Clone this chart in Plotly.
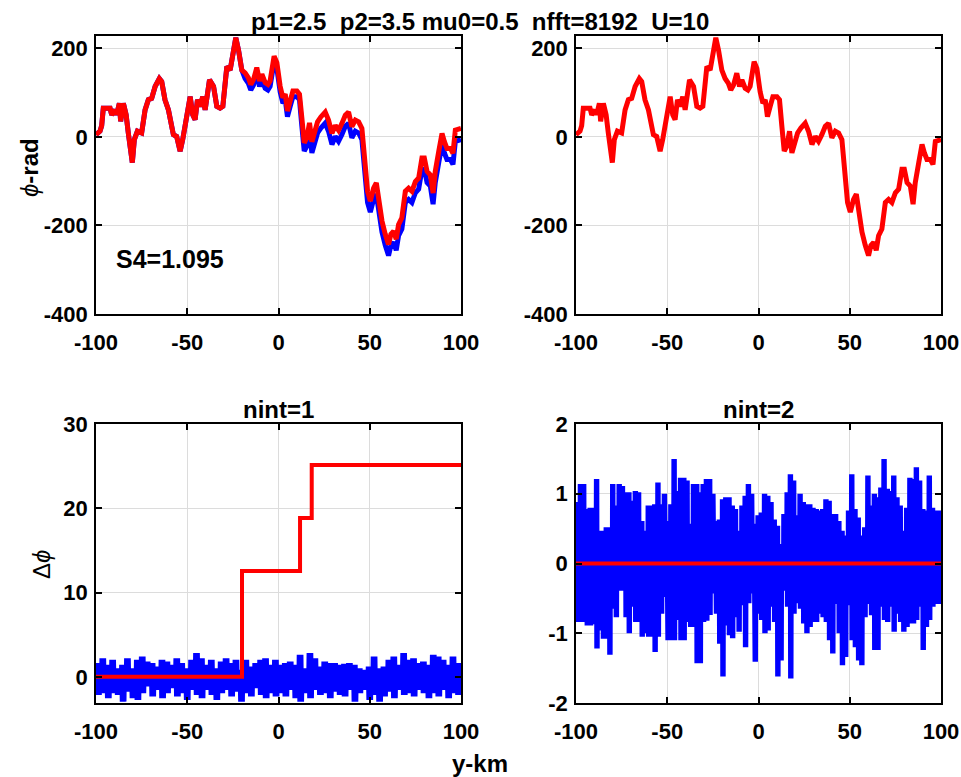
import bisect
import plotly.graph_objects as go

# ---------------------------------------------------------------------------
# Phase along the track (rad) versus y (km)
# ---------------------------------------------------------------------------
track_km = [-100, -97.8, -96.9, -96.0, -92.3, -91.4, -89.6, -88.7, -87.2, -86.5,
            -85.0, -83.5, -82.3, -80.4, -80.1, -79.0, -77.3, -75.0, -73.1, -71.3,
            -69.5, -67.6, -65.3, -64.0, -62.2, -60.3, -57.6, -55.8, -53.9, -52.5,
            -50.3, -48.4, -47.0, -45.7, -44.4, -43.0, -41.5, -40.2, -37.8, -35.6,
            -33.8, -32.0, -30.5, -28.3, -26.5, -24.7, -23.4, -21.9, -20.1, -18.3,
            -16.5, -15.2, -13.7, -11.9, -10.4, -9.1, -7.3, -5.8, -4.6, -2.4,
            -0.9, 0.9, 2.4, 3.7, 4.9, 6.4, 7.9, 10.1, 11.5, 12.8,
            14.1, 15.5, 17.0, 18.3, 20.1, 21.4, 23.2, 25.6, 27.4, 29.3,
            31.1, 32.9, 34.7, 36.6, 38.4, 40.2, 42.1, 43.9, 45.7, 47.5,
            48.8, 50.3, 52.1, 53.6, 54.8, 56.7, 58.5, 60.3, 61.6, 63.1,
            64.5, 65.8, 67.6, 69.5, 71.3, 73.1, 75.0, 76.8, 78.6, 79.9,
            81.4, 83.2, 84.7, 85.9, 87.8, 89.6, 90.9, 92.3, 94.2, 95.6,
            96.9, 98.7, 100]

phase_true = [5, 13, 25, 65, 65, 50, 61, 50, 76, 35,
              76, 50, 9, -51, -58, -6, 13, 9, 61, 84,
              87, 114, 132, 125, 84, 61, 5, 1, -32, -6,
              39, 91, 50, 39, 84, 69, 91, 61, 129, 114,
              69, 65, 69, 159, 151, 188, 224, 196, 151, 132,
              121, 106, 117, 144, 114, 129, 110, 106, 114, 170,
              155, 102, 76, 84, 46, 69, 91, 91, 84, 24,
              -32, -21, 13, -36, -6, 9, 20, 31, 13, -17,
              1, -10, 5, 24, 31, -2, 13, 9, -6, -81,
              -148, -170, -141, -129, -163, -215, -245, -268, -245, -238,
              -256, -223, -208, -148, -141, -148, -126, -118, -73, -73,
              -103, -111, -152, -103, -58, -17, -36, -51, -51, -62,
              -10, -6, -6]

# 2*pi-multiple slips picked up by the nint=1 unwrapping
slip_start_km = [-100.0, -20.0, 11.8, 18.2]
slip_level = [0.0, 12.57, 18.85, 25.13]

# ---------------------------------------------------------------------------
# Phase increments: upper / lower excursion of each block of samples
# ---------------------------------------------------------------------------
dphi1_hi = [1.63, 2.22, 1.43, 2.02, 1.03, 1.43, 2.22, 1.03, 2.02, 2.42,
            1.83, 1.63, 1.23, 2.02, 1.83, 1.43, 2.22, 1.63, 1.03, 2.02,
            2.82, 2.22, 1.43, 2.02, 1.03, 1.83, 2.22, 1.63, 2.02, 0.83,
            2.02, 1.23, 1.63, 2.02, 2.22, 1.43, 2.02,
            1.43, 1.63, 1.83, 1.43, 2.62, 1.03, 2.82, 2.22, 1.23, 1.83,
            1.63, 1.63, 1.43, 1.55, 1.63, 1.43, 1.03, 0.83, 1.23, 2.42,
            1.03, 1.23, 2.02, 2.42, 1.43, 2.82, 2.02, 2.22, 1.63, 1.83,
            1.43, 2.62, 2.42, 2.02, 1.43, 2.42, 1.63]
dphi1_lo = [-2.14, -1.94, -2.54, -1.94, -2.14, -2.94, -1.75, -2.54, -2.74, -1.94,
            -1.15, -2.34, -1.55, -2.54, -1.94, -1.35, -2.34, -1.94, -2.74, -1.55,
            -2.14, -2.54, -1.55, -2.14, -2.74, -1.94, -1.55, -2.34, -1.75, -2.94,
            -1.94, -2.34, -1.35, -2.14, -2.54, -1.94, -2.34,
            -1.94, -2.34, -1.55, -2.54, -2.94, -1.94, -2.54, -1.55, -2.14, -1.94,
            -2.54, -1.75, -2.14, -2.34, -1.55, -2.94, -1.94, -1.55, -2.74, -2.14,
            -2.94, -2.34, -1.75, -2.54, -1.55, -2.14, -1.94, -2.34, -1.55, -1.94,
            -2.54, -1.94, -2.34, -1.55, -2.54, -1.94, -2.14]

dphi2_hi = [0.88, 1.14, 1.14, 0.78, 0.80, 0.80, 1.21, 0.47, 0.47, 0.52,
            0.52, 1.14, 0.83, 1.14, 1.11, 1.02, 1.02, 0.90, 1.04, 1.02,
            0.61, 0.47, 0.83, 0.83, 0.85, 1.16, 0.85, 1.00, 0.61, 0.85,
            1.50, 1.04, 1.23, 1.23, 1.19, 0.57, 1.14, 1.14,
            1.02, 1.14, 1.21, 1.21, 1.00, 0.61, 0.63, 0.92, 0.95, 0.95,
            0.83, 0.78, 0.47, 0.83, 0.97, 1.14, 1.00, 0.57, 0.69, 0.73,
            1.00, 0.97, 0.88, 0.63, 0.54, 0.28, 0.71, 1.02, 1.28, 1.19,
            0.69, 1.00, 0.88, 0.85, 0.85, 0.80, 0.78, 0.76,
            0.78, 0.92, 0.90, 0.71, 0.71, 0.61, 0.47, 0.40, 0.76, 1.28,
            0.78, 0.66, 0.40, 0.52, 1.26, 0.83, 1.00, 0.95, 1.09, 1.50,
            1.07, 1.04, 1.26, 0.95, 0.83, 0.47, 0.80, 1.23, 1.21, 1.38,
            1.19, 0.78, 0.76, 1.26, 0.80, 0.76, 0.76]
dphi2_lo = [-0.84, -0.84, -0.84, -0.89, -0.89, -0.87, -1.22, -0.96, -1.08, -1.08,
            -1.31, -0.65, -0.77, -0.39, -0.39, -0.77, -1.00, -0.62, -0.84, -0.84,
            -1.05, -1.00, -1.05, -1.05, -1.27, -1.05, -0.72, -0.48, -1.10, -1.10,
            -1.10, -0.81, -1.10, -1.10, -0.84, -0.91, -0.91, -1.43,
            -1.43, -0.84, -0.82, -0.74, -0.43, -0.72, -1.15, -1.62, -0.89, -1.03,
            -1.07, -0.77, -0.98, -0.60, -1.20, -0.57, -0.43, -1.41, -0.72, -0.81,
            -1.00, -0.96, -0.62, -0.84, -1.62, -1.39, -0.39, -0.62, -1.65, -0.72,
            -0.57, -0.65, -0.86, -1.00, -0.91, -0.84, -0.84, -0.72,
            -0.77, -0.84, -1.10, -1.29, -0.58, -1.00, -1.46, -1.34, -0.60, -1.10,
            -1.20, -1.39, -1.46, -0.77, -0.58, -0.74, -1.24, -1.24, -0.62, -0.81,
            -0.84, -0.62, -0.98, -0.72, -0.84, -0.98, -0.91, -0.86, -0.86, -0.81,
            -0.62, -1.24, -0.91, -0.81, -0.62, -0.58, -0.58]

x_ticks = [-100, -50, 0, 50, 100]
phase_ticks = [-400, -200, 0, 200]
slip_ticks = [0, 10, 20, 30]
dphi2_ticks = [-2, -1, 0, 1, 2]

BLUE = "#0000FF"
RED = "#FF0000"
FONT = "Liberation Sans, Arial, Helvetica, sans-serif"


def slip_at(y):
    """Accumulated 2*pi slip at track position y."""
    return slip_level[max(bisect.bisect_right(slip_start_km, y) - 1, 0)]


def dense_trace(hi, lo, x0=-100.0, x1=100.0, per_block=4):
    """Samples alternating between each block's upper and lower excursion."""
    n = len(hi)
    dx = (x1 - x0) / n
    step = dx / (2 * per_block)
    xs, ys = [], []
    for j, (h, l) in enumerate(zip(hi, lo)):
        b = x0 + j * dx
        for k in range(per_block):
            xs += [b + 2 * k * step, b + (2 * k + 1) * step]
            ys += [h, l]
    xs.append(x1)
    ys.append(hi[-1])
    return xs, ys


phase_unwrapped = [p + slip_at(y) for y, p in zip(track_km, phase_true)]

W, H = 961, 777
left_dom = [96 / W, 461 / W]
right_dom = [576 / W, 941 / W]
top_dom = [1 - 314 / H, 1 - 36 / H]
bot_dom = [1 - 703 / H, 1 - 424 / H]

fig = go.Figure()

# top-left: reference and unwrapped phase
fig.add_trace(go.Scatter(x=track_km, y=phase_true, mode="lines",
                         line=dict(color=BLUE, width=5), xaxis="x", yaxis="y"))
fig.add_trace(go.Scatter(x=track_km, y=phase_unwrapped, mode="lines",
                         line=dict(color=RED, width=5), xaxis="x", yaxis="y"))
# top-right: nint=2 result
fig.add_trace(go.Scatter(x=track_km, y=phase_true, mode="lines",
                         line=dict(color=RED, width=5), xaxis="x2", yaxis="y2"))
# bottom-left: increments and slip
nx1, ny1 = dense_trace(dphi1_hi, dphi1_lo)
fig.add_trace(go.Scatter(x=nx1, y=ny1, mode="lines",
                         line=dict(color=BLUE, width=3), xaxis="x3", yaxis="y3"))
fig.add_trace(go.Scatter(x=slip_start_km + [100], y=slip_level + [slip_level[-1]],
                         mode="lines", line=dict(color=RED, width=4, shape="hv"),
                         xaxis="x3", yaxis="y3"))
# bottom-right: increments, no slip
nx2, ny2 = dense_trace(dphi2_hi, dphi2_lo)
fig.add_trace(go.Scatter(x=nx2, y=ny2, mode="lines",
                         line=dict(color=BLUE, width=3), xaxis="x4", yaxis="y4"))
fig.add_trace(go.Scatter(x=[-100, 100], y=[0, 0], mode="lines",
                         line=dict(color=RED, width=4), xaxis="x4", yaxis="y4"))

tickfont = dict(family=FONT, size=22, color="black", weight="bold")


def ax(domain, anchor, rng, tickvals, standoff):
    return dict(domain=domain, anchor=anchor, range=rng, tickvals=tickvals,
                ticktext=[str(v) for v in tickvals], automargin=False,
                showline=True, linecolor="black", linewidth=1.5, mirror="ticks",
                ticks="inside", ticklen=6, tickwidth=1.5, tickcolor="black",
                ticklabelstandoff=standoff,
                showgrid=True, gridcolor="#dcdcdc", gridwidth=1, zeroline=False,
                tickfont=tickfont, fixedrange=True)


fig.update_layout(
    template="none",
    width=W, height=H,
    margin=dict(l=0, r=0, t=0, b=0, pad=0),
    paper_bgcolor="white", plot_bgcolor="white",
    showlegend=False,
    xaxis=ax(left_dom, "y", [-100, 100], x_ticks, 8),
    yaxis=ax(top_dom, "x", [-400, 228], phase_ticks, 2),
    xaxis2=ax(right_dom, "y2", [-100, 100], x_ticks, 8),
    yaxis2=ax(top_dom, "x2", [-400, 228], phase_ticks, 2),
    xaxis3=ax(left_dom, "y3", [-100, 100], x_ticks, 8),
    yaxis3=ax(bot_dom, "x3", [-3.1, 30], slip_ticks, 2),
    xaxis4=ax(right_dom, "y4", [-100, 100], x_ticks, 8),
    yaxis4=ax(bot_dom, "x4", [-2, 2], dphi2_ticks, 2),
)

bold = dict(family=FONT, size=24, color="black", weight="bold")
notes = [
    dict(text="p1=2.5\u00a0\u00a0p2=3.5 mu0=0.5\u00a0\u00a0nfft=8192\u00a0\u00a0U=10",
         x=480 / W, y=1 - 22 / H, xref="paper", yref="paper",
         xanchor="center", yanchor="middle", font=bold),
    dict(text="nint=1", x=278 / W, y=1 - 409 / H, xref="paper", yref="paper",
         xanchor="center", yanchor="middle", font=bold),
    dict(text="nint=2", x=758 / W, y=1 - 409 / H, xref="paper", yref="paper",
         xanchor="center", yanchor="middle", font=bold),
    dict(text="S4=1.095", x=-90, y=-276, xref="x", yref="y",
         xanchor="left", yanchor="middle",
         font=dict(family=FONT, size=25, color="black", weight="bold")),
    dict(text="<span style='font-weight:normal'><i>ϕ</i></span>-rad",
         x=29 / W, y=1 - 168 / H, xref="paper", yref="paper", textangle=-90,
         xanchor="center", yanchor="middle", font=bold),
    dict(text="Δ<i>ϕ</i>", x=41 / W, y=1 - 565 / H, xref="paper", yref="paper",
         textangle=-90, xanchor="center", yanchor="middle",
         font=dict(family=FONT, size=24, color="black")),
    dict(text="y-km", x=480 / W, y=1 - 763 / H, xref="paper", yref="paper",
         xanchor="center", yanchor="middle", font=bold),
]
for n in notes:
    n["showarrow"] = False
    fig.add_annotation(**n)

fig.write_html("out.html")
